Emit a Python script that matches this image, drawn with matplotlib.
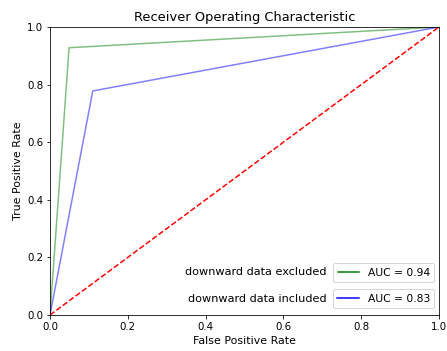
import matplotlib
matplotlib.use('Agg')
import matplotlib.pyplot as plt
from matplotlib.lines import Line2D

fpr_excluded = [0.0, 0.049, 1.0]
tpr_excluded = [0.0, 0.928, 1.0]
fpr_included = [0.0, 0.11, 1.0]
tpr_included = [0.0, 0.778, 1.0]
auc_excluded = 0.94
auc_included = 0.83
label_excluded = 'downward data excluded'
label_included = 'downward data included'

fig = plt.figure(figsize=(447 / 72, 351 / 72), dpi=72)
ax = fig.add_axes([50 / 447, 36 / 351, 389 / 447, 288 / 351])

ax.plot(fpr_excluded, tpr_excluded, 'g', alpha=0.5)
ax.plot(fpr_included, tpr_included, 'b', alpha=0.5)
ax.plot([0, 1], [0, 1], 'r--')
ax.set_xlim(0, 1)
ax.set_ylim(0, 1)
ax.set_title('Receiver Operating Characteristic', fontsize=13)
ax.set_xlabel('False Positive Rate', fontsize=11)
ax.set_ylabel('True Positive Rate', fontsize=11)
ax.tick_params(labelsize=10.3)

leg1 = ax.legend([Line2D([], [], color='g')], ['AUC = %0.2f' % auc_excluded],
                 loc='lower right', bbox_to_anchor=(0.988, 0.115), borderaxespad=0,
                 fontsize=10.8)
ax.add_artist(leg1)
ax.legend([Line2D([], [], color='b')], ['AUC = %0.2f' % auc_included],
          loc='lower right', bbox_to_anchor=(0.988, 0.024), borderaxespad=0,
          fontsize=10.8)
ax.text(0.71, 0.149, label_excluded, transform=ax.transAxes, ha='right', va='center', fontsize=11.2)
ax.text(0.71, 0.056, label_included, transform=ax.transAxes, ha='right', va='center', fontsize=11.2)

fig.savefig('out.png', dpi=72)
